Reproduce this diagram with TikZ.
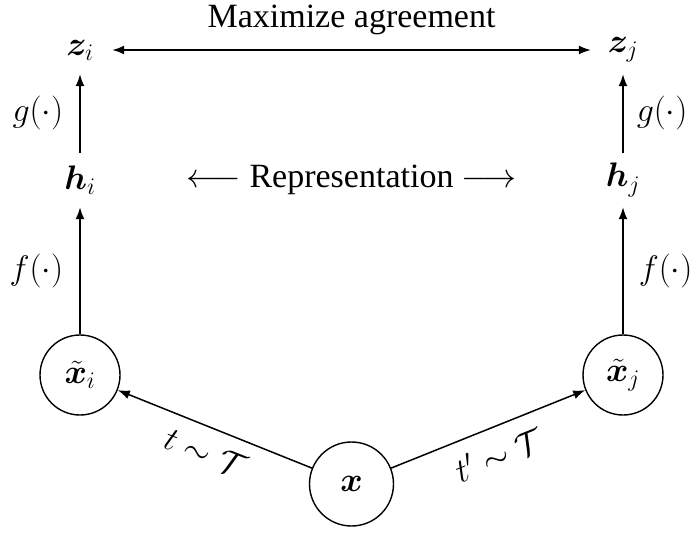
\RequirePackage{fix-cm}
\documentclass[tikz,border=0pt]{standalone}
\usepackage[no-math]{fontspec}
\setmainfont{Liberation Serif}
\usepackage{bm}
\usetikzlibrary{arrows.meta}
\begin{document}
\begin{tikzpicture}[x=1pt,y=-1pt, font=\fontsize{34}{40}\selectfont,
  tip/.tip={Latex[length=12pt,width=9pt]},
  arr/.style={line width=1.5pt, -tip},
  arrboth/.style={line width=1.5pt, tip-tip},
  vec/.style={inner sep=0pt, minimum width=64pt},
  circ/.style={circle, draw, line width=1.4pt, inner sep=0pt, minimum size=80pt},
  lbl/.style={inner sep=0pt}]
\useasboundingbox (0,0) rectangle (700,532);
\node[vec, minimum height=48pt] (zi) at (80,50) {$\bm{z}_i$};
\node[vec, minimum height=48pt] (zj) at (623,50) {$\bm{z}_j$};
\node[vec, minimum height=54pt] (hi) at (80,180) {$\bm{h}_i$};
\node[vec, minimum height=54pt] (hj) at (623,180) {$\bm{h}_j$};
\node[circ] (xi) at (80,375) {$\tilde{\bm{x}}_i$};
\node[circ] (xj) at (623,375) {$\tilde{\bm{x}}_j$};
\node[circ, minimum size=84pt] (x) at (351.5,484) {$\bm{x}$};
\node[lbl, anchor=base] (max) at (351.5,28) {Maximize agreement};
\node[lbl, anchor=base] (rep) at (351.5,187) {$\longleftarrow$ Representation $\longrightarrow$};
\draw[arrboth] (zi) -- (zj);
\draw[arr] (hi) -- node[lbl, left=16pt] (gi) {$g(\cdot)$} (zi);
\draw[arr] (hj) -- node[lbl, right=13pt] (gj) {$g(\cdot)$} (zj);
\draw[arr] (xi) -- node[lbl, left=16pt] (fi) {$f(\cdot)$} (hi);
\draw[arr] (xj) -- node[lbl, right=15pt] (fj) {$f(\cdot)$} (hj);
\draw[arr] (x) -- node[lbl, below=13pt, sloped] (ti) {$t\sim\mathcal{T}$} (xi);
\draw[arr] (x) -- node[lbl, below=14pt, sloped] (tj) {$t'\sim\mathcal{T}$} (xj);
\end{tikzpicture}
\end{document}
